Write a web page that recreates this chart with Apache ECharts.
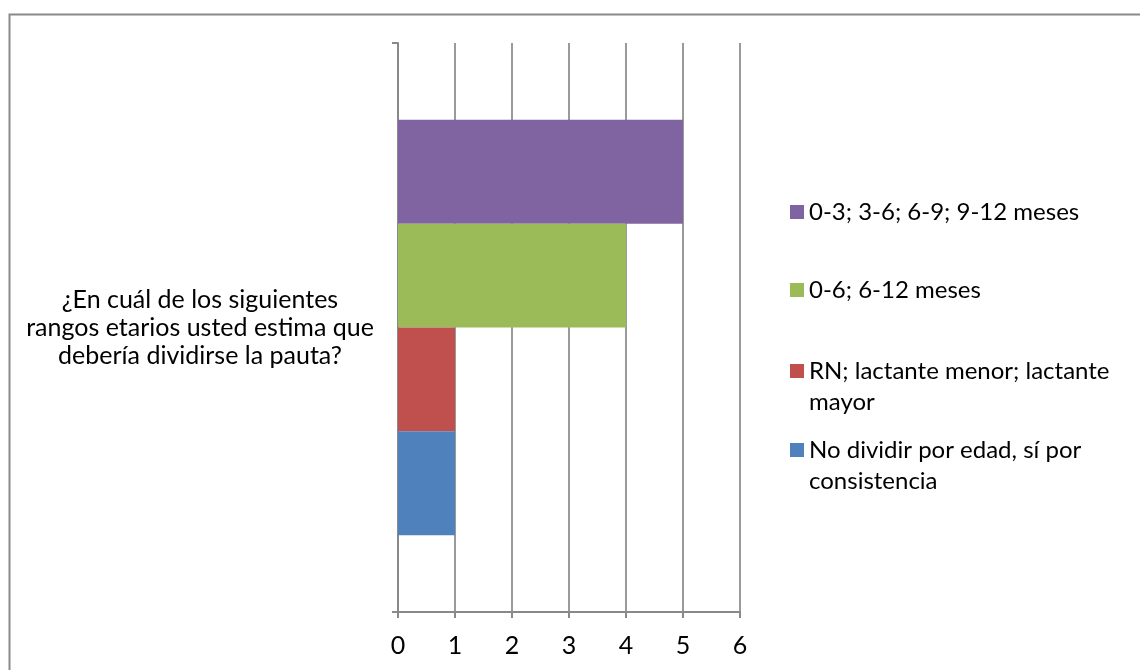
<!DOCTYPE html>
<html><head><meta charset="utf-8">
<script src="https://cdn.jsdelivr.net/npm/echarts@6/dist/echarts.min.js"></script>
<style>html,body{margin:0;padding:0;background:#fff}#c{width:1140px;height:670px}</style>
</head><body><div id="c"></div>
<script>
const categories = ['¿En cuál de los siguientes\nrangos etarios usted estima que\ndebería dividirse la pauta?'];
const seriesNames = ['0-3; 3-6; 6-9; 9-12 meses', '0-6; 6-12 meses', 'RN; lactante menor; lactante mayor', 'No dividir por edad, sí por consistencia'];
const seriesValues = [[5], [4], [1], [1]];
const xTicks = [0, 1, 2, 3, 4, 5, 6];
const colors = ['#8064A2', '#9BBB59', '#C0504D', '#4F81BD'];
const legendWrapped = {
  'No dividir por edad, sí por consistencia': ' \nNo dividir por edad, sí por\nconsistencia',
  'RN; lactante menor; lactante mayor': ' \nRN; lactante menor; lactante\nmayor'
};
const FONT = 'Lato';
const FS = 25;
const LFS = 24;
const LH = 31;
const legendCenters = [212, 290, 371, 450];

const chart = echarts.init(document.getElementById('c'), null, {renderer: 'canvas'});
const legends = seriesNames.map((n, i) => {
  const two = !!legendWrapped[n];
  return {
    data: [n], left: 790, top: legendCenters[i] - (two ? 1.5 * LH : LH / 2), orient: 'vertical',
    padding: 0, itemWidth: 14, itemHeight: 14, itemGap: 0, icon: 'rect', selectedMode: false,
    formatter: name => legendWrapped[name] || name,
    textStyle: {fontFamily: FONT, fontSize: LFS, color: '#000', lineHeight: LH}
  };
});
chart.setOption({
  animation: false,
  color: colors,
  textStyle: {fontFamily: FONT},
  graphic: [{type: 'rect', shape: {x: 9.5, y: 14.5, width: 1200, height: 700},
    style: {fill: 'none', stroke: '#8a8a8a', lineWidth: 2}}],
  grid: {left: 398, right: 400, top: 43, bottom: 58},
  legend: legends,
  xAxis: {
    type: 'value', min: xTicks[0], max: xTicks[xTicks.length - 1], interval: 1,
    axisLine: {show: true, lineStyle: {color: '#898989', width: 2}},
    axisTick: {show: true, length: 6, lineStyle: {color: '#898989', width: 2}},
    splitLine: {show: true, lineStyle: {color: '#9a9a9a', width: 2}},
    axisLabel: {fontFamily: FONT, fontSize: FS, color: '#000', margin: 21}
  },
  yAxis: {
    type: 'category', data: categories,
    axisLine: {show: true, lineStyle: {color: '#898989', width: 2}},
    axisTick: {show: true, length: 6, lineStyle: {color: '#898989', width: 2}},
    axisLabel: {fontFamily: FONT, fontSize: FS, color: '#000', align: 'center', margin: 198, lineHeight: 28}
  },
  series: seriesNames.map((n, i) => ({
    name: n, type: 'bar', data: seriesValues[i],
    barGap: '0%', barCategoryGap: '27%'
  }))
});
</script></body></html>
